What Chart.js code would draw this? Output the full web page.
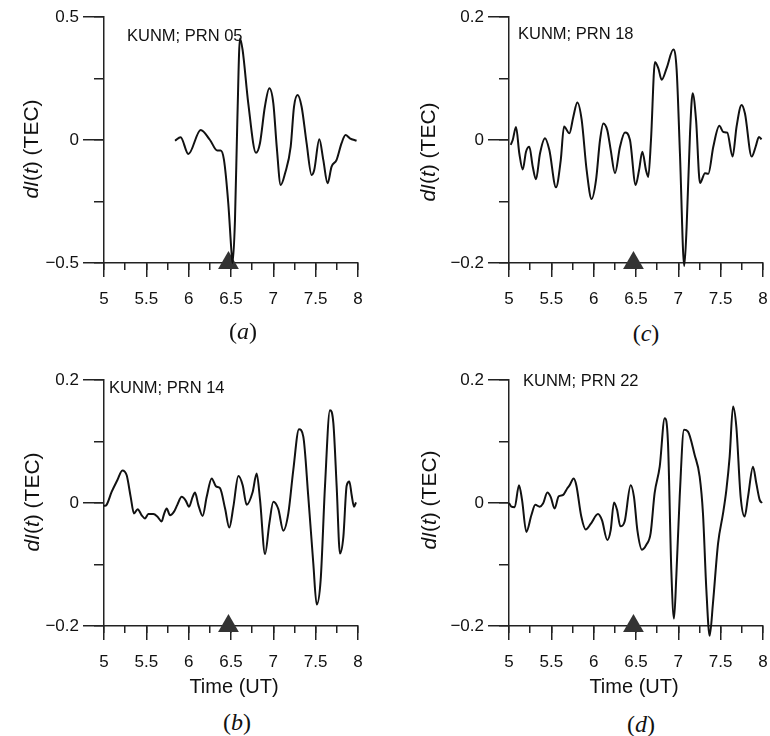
<!DOCTYPE html>
<html>
<head>
<meta charset="utf-8">
<script src="https://cdn.jsdelivr.net/npm/chart.js@4.4.1/dist/chart.umd.min.js"></script>
<style>
  body { margin: 0; background: #fff; }
  #fig { position: relative; width: 770px; height: 736px; font-family: "Liberation Sans", Arial, sans-serif; color: #111; }
  .panel { position: absolute; }
  .ylab { position: absolute; font-size: 21px; line-height: 1; white-space: nowrap; transform: translate(-50%, -50%) rotate(-90deg); }
  .note { position: absolute; font-size: 16.5px; line-height: 1; white-space: nowrap; transform: translateY(-50%); }
  .xlab { position: absolute; font-size: 20px; line-height: 1; white-space: nowrap; transform: translate(-50%, -50%); }
  .cap { position: absolute; font-family: "Liberation Serif", "Times New Roman", serif; font-size: 24px; line-height: 1; transform: translate(-50%, -50%); }
</style>
</head>
<body>
<div id="fig">
  <canvas class="panel" id="chartA" width="385" height="320" style="left:0;top:0"></canvas>
  <canvas class="panel" id="chartC" width="385" height="320" style="left:385px;top:0"></canvas>
  <canvas class="panel" id="chartB" width="385" height="320" style="left:0;top:363px"></canvas>
  <canvas class="panel" id="chartD" width="385" height="320" style="left:385px;top:363px"></canvas>

  <div class="ylab" style="left:30px;top:149px"><i>dI</i>(<i>t</i>) (TEC)</div>
  <div class="ylab" style="left:427px;top:152px"><i>dI</i>(<i>t</i>) (TEC)</div>
  <div class="ylab" style="left:31px;top:502px"><i>dI</i>(<i>t</i>) (TEC)</div>
  <div class="ylab" style="left:428px;top:500px"><i>dI</i>(<i>t</i>) (TEC)</div>

  <div class="note" style="left:127px;top:35px">KUNM; PRN 05</div>
  <div class="note" style="left:518px;top:33px">KUNM; PRN 18</div>
  <div class="note" style="left:109px;top:387px">KUNM; PRN 14</div>
  <div class="note" style="left:523px;top:380px">KUNM; PRN 22</div>

  <div class="xlab" style="left:234px;top:686px">Time (UT)</div>
  <div class="xlab" style="left:634px;top:686px">Time (UT)</div>

  <div class="cap" style="left:243px;top:331px">(<i>a</i>)</div>
  <div class="cap" style="left:646px;top:333px">(<i>c</i>)</div>
  <div class="cap" style="left:237px;top:722px">(<i>b</i>)</div>
  <div class="cap" style="left:641px;top:724px">(<i>d</i>)</div>
</div>

<script>
// Hora del sismo (triángulo sobre el eje X)
const QUAKE_T = 6.47;

// (a) PRN 05
const tA = [5.839, 5.905, 5.996, 6.142, 6.252, 6.338, 6.378, 6.417, 6.468, 6.507, 6.519, 6.547, 6.575, 6.606, 6.637,
  6.704, 6.795, 6.842, 6.9, 6.953, 7.0, 7.04, 7.087, 7.138, 7.205, 7.244, 7.287, 7.334, 7.393, 7.452, 7.483,
  7.543, 7.59, 7.641, 7.688, 7.747, 7.806, 7.853, 7.904, 7.983];
const vA = [-0.003, 0.011, -0.057, 0.041, 0, -0.043, -0.043, -0.081, -0.258, -0.46, -0.5, -0.325, 0.081, 0.413, 0.366,
  0.149, -0.052, -0.013, 0.135, 0.21, 0.149, -0.027, -0.183, -0.136, -0.027, 0.135, 0.183, 0.135, -0.013, -0.142, -0.122,
  0.003, -0.081, -0.176, -0.108, -0.081, -0.013, 0.02, 0.007, -0.003];

// (c) PRN 18
const tC = [5.02, 5.044, 5.083, 5.122, 5.162, 5.201, 5.24, 5.28, 5.319, 5.366, 5.425, 5.476, 5.555, 5.611, 5.65,
  5.713, 5.76, 5.807, 5.858, 5.917, 5.976, 6.028, 6.075, 6.114, 6.161, 6.201, 6.252, 6.311, 6.37, 6.429, 6.496,
  6.536, 6.575, 6.618, 6.645, 6.677, 6.724, 6.763, 6.803, 6.862, 6.941, 6.98, 7.019, 7.07, 7.098, 7.138, 7.169,
  7.209, 7.256, 7.315, 7.354, 7.413, 7.484, 7.531, 7.578, 7.641, 7.688, 7.747, 7.787, 7.866, 7.913, 7.952, 7.983];
const vC = [-0.008, 0, 0.021, -0.022, -0.048, -0.019, -0.011, -0.043, -0.064, -0.022, 0.003, -0.016, -0.077, -0.033, 0.022,
  0.011, 0.038, 0.061, 0.033, -0.049, -0.096, -0.065, 0, 0.027, 0.016, -0.016, -0.054, -0.011, 0.012, 0, -0.073,
  -0.049, -0.019, -0.049, -0.06, 0, 0.127, 0.117, 0.098, 0.117, 0.147, 0.114, -0.022, -0.205, -0.141, 0.011, 0.076,
  0.033, -0.07, -0.054, -0.055, -0.011, 0.023, 0.013, 0.012, -0.027, 0.022, 0.057, 0.043, -0.027, -0.011, 0.005, 0.001];

// (b) PRN 14
const tB = [5, 5.03, 5.09, 5.157, 5.217, 5.268, 5.315, 5.354, 5.398, 5.445, 5.484, 5.524, 5.583, 5.63, 5.681,
  5.709, 5.74, 5.78, 5.827, 5.866, 5.917, 5.965, 6.004, 6.047, 6.075, 6.114, 6.165, 6.213, 6.272, 6.323, 6.37,
  6.43, 6.48, 6.528, 6.587, 6.638, 6.685, 6.756, 6.803, 6.843, 6.902, 6.953, 7.0, 7.059, 7.118, 7.177, 7.236,
  7.303, 7.354, 7.413, 7.472, 7.512, 7.559, 7.61, 7.669, 7.709, 7.748, 7.787, 7.827, 7.866, 7.898, 7.925, 7.953, 7.976];
const vB = [-0.005, -0.003, 0.018, 0.037, 0.053, 0.045, 0.01, -0.017, -0.01, -0.02, -0.025, -0.018, -0.018, -0.022, -0.03,
  -0.018, -0.009, -0.02, -0.014, -0.003, 0.01, 0.004, -0.006, 0.01, 0.017, -0.003, -0.021, 0.01, 0.04, 0.027, 0.024,
  -0.009, -0.04, -0.006, 0.044, 0.029, -0.003, 0.018, 0.048, 0.005, -0.083, -0.033, 0.002, -0.01, -0.045, -0.017, 0.054,
  0.12, 0.108, 0.01, -0.098, -0.165, -0.125, 0.027, 0.151, 0.13, 0.027, -0.082, -0.055, 0.028, 0.035, 0.013, -0.006, 0.001];

// (d) PRN 22
const tD = [5, 5.028, 5.067, 5.118, 5.154, 5.205, 5.264, 5.311, 5.362, 5.402, 5.453, 5.492, 5.539, 5.587, 5.638,
  5.689, 5.717, 5.764, 5.795, 5.854, 5.906, 5.965, 6.051, 6.098, 6.161, 6.201, 6.24, 6.276, 6.315, 6.366, 6.437,
  6.476, 6.516, 6.571, 6.622, 6.673, 6.72, 6.78, 6.839, 6.878, 6.917, 6.949, 6.976, 7.016, 7.067, 7.114, 7.193,
  7.252, 7.291, 7.331, 7.37, 7.409, 7.469, 7.528, 7.567, 7.606, 7.646, 7.685, 7.736, 7.783, 7.823, 7.882, 7.921, 7.961, 7.988];
const vD = [0, -0.006, -0.007, 0.029, 0.005, -0.047, -0.02, -0.003, -0.006, -0.001, 0.017, 0.01, -0.009, 0.011, 0.013,
  0.024, 0.029, 0.04, 0.029, -0.022, -0.043, -0.034, -0.018, -0.028, -0.06, -0.044, 0.001, -0.011, -0.038, -0.03, 0.029,
  0.01, -0.044, -0.076, -0.068, -0.049, 0.016, 0.059, 0.138, 0.097, -0.109, -0.188, -0.12, 0.01, 0.119, 0.116, 0.078,
  0.043, -0.017, -0.141, -0.216, -0.163, -0.066, -0.017, 0.021, 0.075, 0.157, 0.124, 0.01, -0.022, 0.01, 0.059, 0.032, 0.005, 0];

// Escala del eje X (horas UT)
const X_MIN = 5, X_MAX = 8;

const INK = '#111';
const AXIS = '#222';
const TICK_FONT = { family: '"Liberation Sans", Arial, sans-serif', size: 17 };

// Alto del lienzo y posición del área de trazado dentro de él
const CANVAS_H = 320, AREA_TOP = 17, AREA_BOTTOM = 263, AREA_W = 254;

// Etiquetas sin ceros sobrantes ("5", "5.5") y con signo menos tipográfico
function tickFmt(v) {
    if (Math.abs(v) < 1e-9) return '0';
    return String(Math.round(v * 100) / 100).replace('-', '\u2212');
}

function makePanel(id, times, values, yMax, areaLeft) {
    const yMin = -yMax;
    const pts = times.map((t, i) => ({ x: t, y: values[i] }));
    const axisGrid = (len) => ({ drawOnChartArea: false, tickLength: len, color: AXIS, lineWidth: 1.5 });
    // Anula el margen extra que Chart.js reserva para las etiquetas de los extremos,
    // así el área de trazado queda exactamente donde la fija layout.padding
    const noEdgePad = (s) => { s.paddingLeft = 0; s.paddingRight = 0; s.paddingTop = 0; s.paddingBottom = 0; };
    new Chart(document.getElementById(id), {
        type: 'line',
        data: {
            datasets: [
                { data: pts, xAxisID: 'x', yAxisID: 'y', borderColor: INK, borderWidth: 2, pointRadius: 0,
                  cubicInterpolationMode: 'monotone', clip: false },
                { data: [{ x: QUAKE_T, y: yMin }], xAxisID: 'x', yAxisID: 'y', showLine: false,
                  pointStyle: 'triangle', pointRadius: 12, backgroundColor: '#333', borderWidth: 0, clip: false }
            ]
        },
        options: {
            responsive: false, animation: false, events: [],
            layout: { autoPadding: false, padding: { top: AREA_TOP, right: 385 - areaLeft - AREA_W, left: 0, bottom: 0 } },
            plugins: { legend: { display: false }, tooltip: { enabled: false } },
            scales: {
                x: {
                    type: 'linear', position: 'bottom', weight: 1, min: X_MIN, max: X_MAX,
                    ticks: { stepSize: 0.5, color: INK, font: TICK_FONT, padding: 12, maxRotation: 0, callback: tickFmt },
                    grid: axisGrid(14), border: { color: AXIS, width: 1.5 },
                    afterFit: (s) => { s.height = CANVAS_H - AREA_BOTTOM; noEdgePad(s); }
                },
                xm: {
                    type: 'linear', position: 'bottom', weight: 0, min: X_MIN, max: X_MAX,
                    ticks: { stepSize: 0.25, display: false },
                    grid: axisGrid(7), border: { display: false },
                    afterFit: (s) => { s.height = 0; noEdgePad(s); }
                },
                y: {
                    type: 'linear', position: 'left', weight: 1, min: yMin, max: yMax,
                    ticks: { stepSize: yMax, color: INK, font: TICK_FONT, padding: 4, callback: tickFmt },
                    grid: axisGrid(21), border: { color: AXIS, width: 1.5 },
                    afterFit: (s) => { s.width = areaLeft; noEdgePad(s); }
                },
                ym: {
                    type: 'linear', position: 'left', weight: 0, min: yMin, max: yMax,
                    ticks: { stepSize: yMax / 2, display: false },
                    grid: axisGrid(10), border: { display: false },
                    afterFit: (s) => { s.width = 0; noEdgePad(s); }
                }
            }
        }
    });
}

makePanel('chartA', tA, vA, 0.5, 104);
makePanel('chartC', tC, vC, 0.2, 124);
makePanel('chartB', tB, vB, 0.2, 104);
makePanel('chartD', tD, vD, 0.2, 124);
</script>
</body>
</html>
